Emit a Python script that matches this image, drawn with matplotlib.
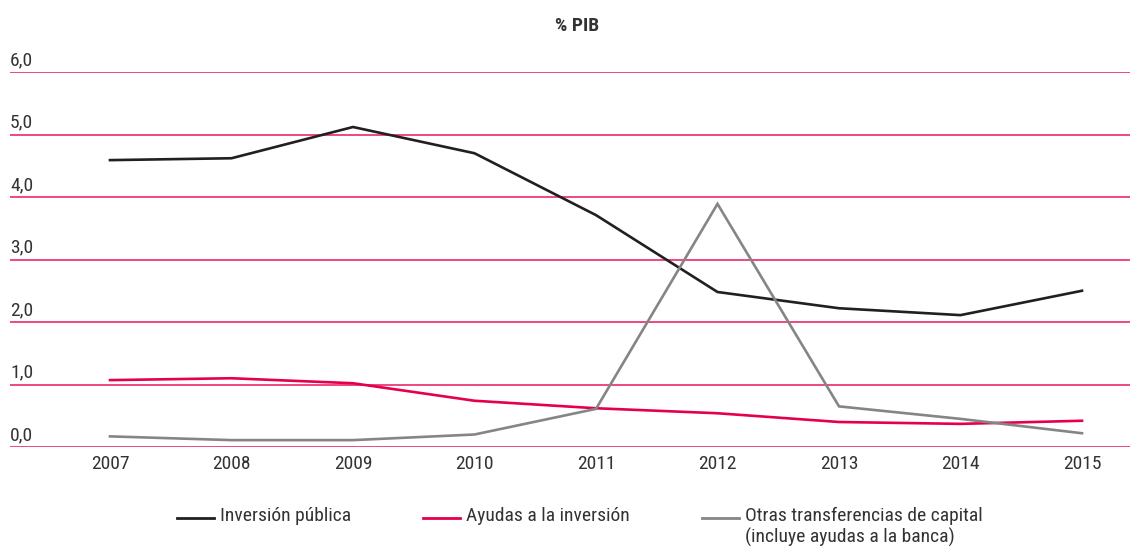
import matplotlib
matplotlib.use('Agg')
import matplotlib.pyplot as plt
from matplotlib.lines import Line2D
from matplotlib import font_manager
from matplotlib.font_manager import FontProperties

# Datos (% PIB)
years = [2007, 2008, 2009, 2010, 2011, 2012, 2013, 2014, 2015]
inversion_publica = [4.59, 4.62, 5.12, 4.70, 3.71, 2.48, 2.22, 2.11, 2.50]
ayudas_inversion = [1.07, 1.10, 1.02, 0.74, 0.62, 0.54, 0.40, 0.37, 0.42]
otras_transferencias = [0.17, 0.11, 0.11, 0.20, 0.61, 3.89, 0.65, 0.45, 0.22]
y_ticks = [0, 1, 2, 3, 4, 5, 6]
y_tick_labels = ['0,0', '1,0', '2,0', '3,0', '4,0', '5,0', '6,0']
series_labels = ['Inversión pública', 'Ayudas a la inversión',
                 'Otras transferencias de capital\n(incluye ayudas a la banca)']

BLACK = '#231f20'
RED = '#e5004f'
GRAY = '#858585'
GRID = '#e8175d'
TEXT = '#333333'

# Buscar una fuente estrecha (condensed / narrow) si hay alguna instalada
def find_font(bold):
    found = []
    for f in font_manager.fontManager.ttflist:
        key = (f.name + ' ' + f.fname).lower()
        if ('condensed' in key or 'narrow' in key) and f.style == 'normal':
            if 'semi' in key or 'extra' in key or 'light' in key or 'medium' in key or 'thin' in key or 'black' in key:
                continue
            w = f.weight if isinstance(f.weight, int) else 400
            if (w >= 600) == bold:
                found.append(f.fname)
    found.sort(key=lambda p: (0 if 'roboto' in p.lower() else 1 if 'liberation' in p.lower() else 2, p))
    return found[0] if found else None

reg = find_font(False)
bld = find_font(True)
if reg:
    fp = FontProperties(fname=reg, size=14)
    fp_leg = FontProperties(fname=reg, size=14)
    fp_b = FontProperties(fname=bld if bld else reg, size=14, weight='bold')
else:
    fp = FontProperties(family='DejaVu Sans', size=11)
    fp_leg = FontProperties(family='DejaVu Sans', size=9.5)
    fp_b = FontProperties(family='DejaVu Sans', size=11, weight='bold')

fig = plt.figure(figsize=(11.3, 5.52), dpi=100)
ax = fig.add_axes([10 / 1130, 1 - 447 / 552, 1120 / 1130, (447 - 72) / 552])

for v in y_ticks:
    ax.axhline(v, color=GRID, lw=1.1, zorder=1)

colors = [BLACK, RED, GRAY]
for vals, c in zip([inversion_publica, ayudas_inversion, otras_transferencias], colors):
    ax.plot(years, vals, color=c, lw=1.9, zorder=3, solid_joinstyle='miter')

ax.set_xlim(years[0] - 100 / 121.5, years[-1] + 48 / 121.5)
ax.set_ylim(0, 6)
ax.set_xticks(years)
ax.set_xticklabels([str(y) for y in years], color=TEXT, fontproperties=fp)
ax.tick_params(axis='x', length=0, pad=6)
ax.set_yticks([])
for s in ax.spines.values():
    s.set_visible(False)

# Etiquetas del eje y sobre las líneas de cuadrícula
for v, lab in zip(y_ticks, y_tick_labels):
    ax.text(0.0, v + 0.05, lab, transform=ax.get_yaxis_transform(),
            ha='left', va='bottom', color=TEXT, fontproperties=fp)

fig.text(577 / 1130, 1 - 26 / 552, '% PIB', ha='center', va='center',
         color=TEXT, fontproperties=fp_b)

# Leyenda manual
leg_x = [177, 423, 702]
leg_y = 1 - 518 / 552
for x0, c, lab in zip(leg_x, colors, series_labels):
    fig.add_artist(Line2D([x0 / 1130, (x0 + 37) / 1130], [leg_y, leg_y],
                          color=c, lw=2.0, transform=fig.transFigure))
    fig.text((x0 + 43) / 1130, leg_y + 11 / 552, lab, ha='left', va='top',
             color=TEXT, fontproperties=fp_leg, linespacing=1.15)

fig.savefig('out.png', dpi=100)
